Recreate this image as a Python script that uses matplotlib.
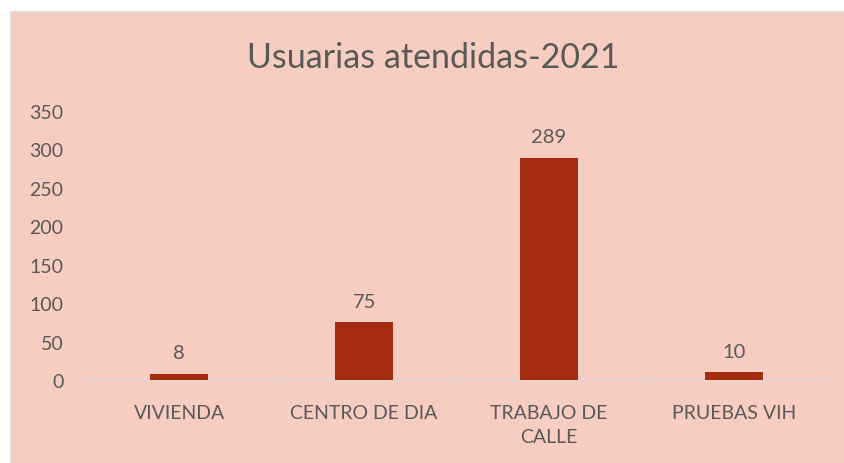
import matplotlib.pyplot as plt
from matplotlib.patches import Rectangle
import numpy as np

categories = ['VIVIENDA', 'CENTRO DE DIA', 'TRABAJO DE\nCALLE', 'PRUEBAS VIH']
values = [8, 75, 289, 10]
yticks = [0, 50, 100, 150, 200, 250, 300, 350]

bg = '#F8CDC1'
bar_color = '#A52C0E'
text_color = '#595959'
line_color = '#D9D9D9'

plt.rcParams['font.family'] = ['Lato', 'DejaVu Sans']

fig = plt.figure(figsize=(8.44, 4.64), dpi=100)
fig.patch.set_facecolor('white')
# chart area background with the thin border on top/left
fig.patches.append(Rectangle((11 / 844, -0.1), 1.1, 1.1 - 13 / 464,
                             transform=fig.transFigure, facecolor=bg,
                             edgecolor=line_color, linewidth=1.2, zorder=-10))

ax = fig.add_axes([87 / 844, 1 - 381 / 464, (826 - 87) / 844, (381 - 112) / 464])
ax.set_facecolor('none')

x = np.arange(len(categories))
bars = ax.bar(x, values, width=0.315, color=bar_color, zorder=3)
for b, v in zip(bars, values):
    ax.annotate(str(v), (b.get_x() + b.get_width() / 2, v), xytext=(0, 9),
                textcoords='offset points', ha='center', va='bottom',
                fontsize=14.5, color=text_color)

ax.set_xlim(-0.5, len(categories) - 0.5)
ax.set_ylim(0, 350)
ax.set_yticks(yticks)
ax.set_xticks(x)
ax.set_xticklabels(categories, fontsize=14, color=text_color, linespacing=1.55)
ax.set_xticks(np.arange(len(categories) + 1) - 0.5, minor=True)
ax.tick_params(axis='x', which='major', length=0, pad=17)
ax.tick_params(axis='x', which='minor', length=5, color=line_color, width=1.2)
ax.tick_params(axis='y', length=0, pad=17, labelsize=14, labelcolor=text_color)

for s in ['top', 'right', 'left']:
    ax.spines[s].set_visible(False)
ax.spines['bottom'].set_color(line_color)
ax.spines['bottom'].set_linewidth(1.2)

fig.text(433 / 844, 1 - 58 / 464, 'Usuarias atendidas-2021', ha='center', va='center',
         fontsize=24.5, color=text_color)

fig.savefig('out.png', dpi=100, facecolor=fig.get_facecolor())
